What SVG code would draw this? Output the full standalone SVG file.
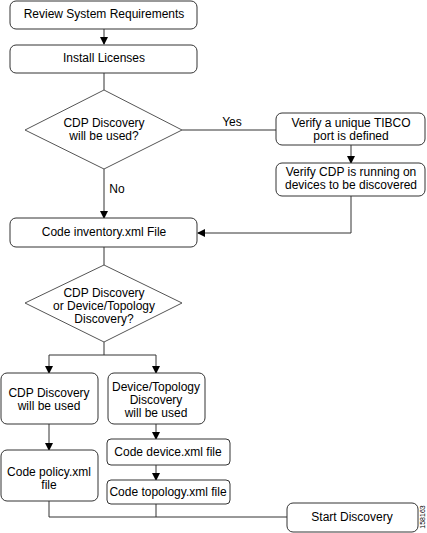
<svg xmlns="http://www.w3.org/2000/svg" width="427" height="533" viewBox="0 0 427 533">
<style>
.box{fill:#fff;stroke:#333;stroke-width:1}
.dia{fill:#fff;stroke:#555;stroke-width:1}
.t{font-family:"Liberation Sans",Arial,sans-serif;font-size:12px;fill:#000;text-anchor:middle}
.c{fill:none;stroke:#333;stroke-width:1}
</style>
<defs>
<marker id="ah" markerWidth="8" markerHeight="8" refX="7" refY="4" orient="auto" markerUnits="userSpaceOnUse">
<path d="M0,0 L8,4 L0,8 z" fill="#000"/>
</marker>
</defs>
<rect width="427" height="533" fill="#fff"/>
<g id="connectors">
<line class="c" x1="104" y1="29" x2="104" y2="44" marker-end="url(#ah)"/>
<line class="c" x1="104" y1="73" x2="104" y2="90"/>
<line class="c" x1="182" y1="130" x2="276" y2="130"/>
<line class="c" x1="104" y1="169" x2="104" y2="218" marker-end="url(#ah)"/>
<line class="c" x1="351" y1="145" x2="351" y2="163" marker-end="url(#ah)"/>
<polyline class="c" points="351,196 351,233 198,233" marker-end="url(#ah)"/>
<line class="c" x1="104" y1="247" x2="104" y2="265"/>
<line class="c" x1="104" y1="342" x2="104" y2="355"/>
<polyline class="c" points="49,355 156,355 156,373" marker-end="url(#ah)"/>
<line class="c" x1="49" y1="355" x2="49" y2="373" marker-end="url(#ah)"/>
<line class="c" x1="49" y1="424" x2="49" y2="450" marker-end="url(#ah)"/>
<line class="c" x1="156" y1="424" x2="156" y2="439" marker-end="url(#ah)"/>
<line class="c" x1="156" y1="465" x2="156" y2="480" marker-end="url(#ah)"/>
<polyline class="c" points="49,501 49,517 287,517"/>
<line class="c" x1="156" y1="504" x2="156" y2="517"/>
<text class="t" x="232" y="126">Yes</text>
<text class="t" x="117" y="193">No</text>
</g>
<g id="n1"><rect class="box" x="10" y="1" width="187" height="28" rx="6"/><text class="t" x="104" y="18">Review System Requirements</text></g>
<g id="n2"><rect class="box" x="10" y="45" width="187" height="28" rx="6"/><text class="t" x="104" y="62">Install Licenses</text></g>
<g id="d1"><polygon class="dia" points="104,90 182,130 104,169 25,130"/><text class="t" x="104" y="127">CDP Discovery</text><text class="t" x="104" y="140">will be used?</text></g>
<g id="n3"><rect class="box" x="276" y="113" width="149" height="32" rx="6"/><text class="t" x="351" y="127">Verify a unique TIBCO</text><text class="t" x="351" y="140">port is defined</text></g>
<g id="n4"><rect class="box" x="276" y="163" width="149" height="33" rx="6"/><text class="t" x="351" y="176">Verify CDP is running on</text><text class="t" x="351" y="189">devices to be discovered</text></g>
<g id="n5"><rect class="box" x="10" y="218" width="187" height="29" rx="6"/><text class="t" x="104" y="236">Code inventory.xml File</text></g>
<g id="d2"><polygon class="dia" points="104,265 182,303 104,342 25,303"/><text class="t" x="104" y="297">CDP Discovery</text><text class="t" x="104" y="310">or Device/Topology</text><text class="t" x="104" y="323">Discovery?</text></g>
<g id="n6"><rect class="box" x="1" y="373" width="97" height="51" rx="6"/><text class="t" x="49" y="397">CDP Discovery</text><text class="t" x="49" y="410">will be used</text></g>
<g id="n7"><rect class="box" x="108" y="373" width="97" height="51" rx="6"/><text class="t" x="156" y="391">Device/Topology</text><text class="t" x="156" y="404">Discovery</text><text class="t" x="156" y="417">will be used</text></g>
<g id="n8"><rect class="box" x="1" y="450" width="97" height="51" rx="6"/><text class="t" x="49" y="476">Code policy.xml</text><text class="t" x="49" y="489">file</text></g>
<g id="n9"><rect class="box" x="107" y="439" width="123" height="26" rx="4"/><text class="t" x="168" y="456">Code device.xml file</text></g>
<g id="n10"><rect class="box" x="107" y="480" width="123" height="24" rx="4"/><text class="t" x="168" y="496">Code topology.xml file</text></g>
<g id="n11"><rect class="box" x="287" y="503" width="131" height="29" rx="6"/><text class="t" x="352" y="521">Start Discovery</text></g>
<text x="425" y="517" font-family="Liberation Sans, Arial, sans-serif" font-size="7" text-anchor="middle" transform="rotate(-90 425 517)">158163</text>
</svg>
